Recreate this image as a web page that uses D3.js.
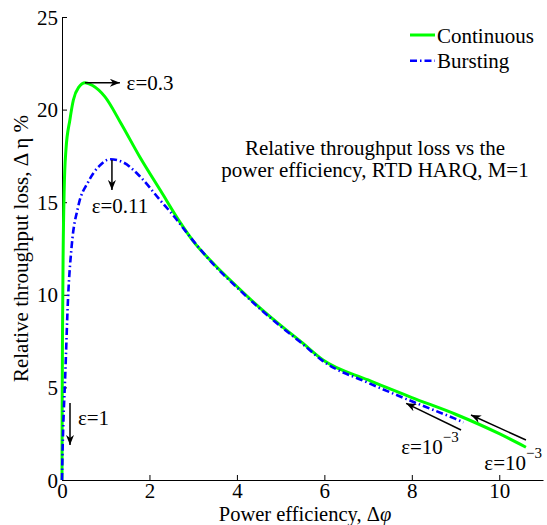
<!DOCTYPE html>
<html>
<head>
<meta charset="utf-8">
<script src="https://cdn.jsdelivr.net/npm/d3@7"></script>
</head>
<body style="margin:0;background:#fff">
<svg id="chart" width="547" height="525"></svg>
<script>
// ---------------- data ----------------
const xTicks = [0, 2, 4, 6, 8, 10];
const yTicks = [0, 5, 10, 15, 20, 25];

const continuousX = [0, 0.004, 0.012, 0.025, 0.05, 0.09, 0.18, 0.26, 0.38, 0.53, 0.7, 0.98, 1.35, 1.78, 2.26, 2.69, 3.0, 3.5, 4.0, 4.5, 5.0, 5.5, 5.97, 7.0, 8.0, 9.0, 10.0, 10.61];
const continuousY = [0, 4, 8, 12, 15.66, 17.82, 19.44, 20.52, 21.2, 21.45, 21.3, 20.7, 19.25, 17.44, 15.6, 13.95, 12.9, 11.6, 10.45, 9.35, 8.35, 7.4, 6.48, 5.4, 4.45, 3.55, 2.5, 1.77];

const burstingX = [0, 0.01, 0.03, 0.07, 0.14, 0.22, 0.37, 0.6, 0.85, 1.1, 1.4, 1.78, 2.24, 2.54, 2.92, 3.5, 4.0, 4.5, 5.0, 5.5, 5.97, 7.0, 8.0, 9.0, 9.18];
const burstingY = [0, 1.3, 3, 5.4, 9.9, 12.6, 14.76, 16.1, 16.95, 17.32, 17.15, 16.4, 15.12, 14.3, 13.15, 11.55, 10.4, 9.3, 8.3, 7.35, 6.42, 5.25, 4.25, 3.3, 3.12];

const seriesNames = ["Continuous", "Bursting"];

// annotation arrows, in data units: tail, tip and label anchor
const arrowFrom = [[0.525, 21.45], [1.142, 17.28], [0.183, 4.16], [9.126, 2.70], [10.61, 2.16]];
const arrowTo   = [[1.324, 21.45], [1.142, 15.66], [0.183, 1.89], [7.87, 4.14], [9.354, 3.51]];
const labelPos  = [[1.477, 21.06], [0.678, 14.42], [0.365, 2.97], [7.756, 1.40], [9.658, 0.54]];
const labelMain = ["ε=0.3", "ε=0.11", "ε=1", "ε=10", "ε=10"];
const labelSup  = ["", "", "", "−3", "−3"];

const titleLines = ["Relative throughput loss vs the", "power efficiency, RTD HARQ, M=1"];

// ---------------- layout ----------------
const FONT = "Liberation Serif";
const svg = d3.select("#chart");
const mLeft = 62, mRight = 543, mTop = 17, mBottom = 480;

const x = d3.scaleLinear().domain([0, 11]).range([mLeft, mRight]);
const y = d3.scaleLinear().domain([0, 25]).range([mBottom, mTop]);

const FS = 21;

svg.append("rect").attr("width", 547).attr("height", 525).attr("fill", "#fff");

// axes
const xAxis = svg.append("g")
  .attr("transform", `translate(0,${mBottom})`)
  .call(d3.axisBottom(x).tickValues(xTicks).tickSizeInner(-5).tickSizeOuter(0).tickFormat(d3.format("d")));
const yAxis = svg.append("g")
  .attr("transform", `translate(${mLeft},0)`)
  .call(d3.axisLeft(y).tickValues(yTicks).tickSizeInner(-5).tickSizeOuter(0).tickFormat(d3.format("d")));

[xAxis, yAxis].forEach(g => {
  g.attr("font-family", FONT).attr("font-size", FS);
  g.select(".domain").attr("stroke", "#000").attr("stroke-width", 1);
  g.selectAll(".tick line").attr("stroke", "#000").attr("stroke-width", 1);
  g.selectAll(".tick text").attr("fill", "#000").attr("font-family", FONT).attr("font-size", FS);
});
xAxis.selectAll(".tick text").attr("y", 17.5).attr("dy", null);
yAxis.selectAll(".tick text").attr("x", -4).attr("dy", "0.34em");

// axis labels
const xl = svg.append("text")
  .attr("x", 305).attr("y", 520.5)
  .attr("text-anchor", "middle")
  .attr("font-family", FONT)
  .attr("font-size", 20.5);
xl.append("tspan").text("Power efficiency, Δ");
xl.append("tspan").attr("font-style", "italic").text("φ");

svg.append("text")
  .attr("transform", `translate(28,${(mTop + mBottom) / 2}) rotate(-90)`)
  .attr("text-anchor", "middle")
  .attr("font-family", FONT)
  .attr("font-size", 21)
  .text("Relative throughput loss, Δ η %");

// lines
const line = d3.line().x(d => x(d[0])).y(d => y(d[1])).curve(d3.curveMonotoneX);
const contData = continuousX.map((v, i) => [v, continuousY[i]]);
const burstData = burstingX.map((v, i) => [v, burstingY[i]]);

const clr = ["#00ff00", "#0000ff"];
const widths = [3, 2.6];
const dashes = [null, "7,3,1.5,3"];

svg.append("path").datum(contData)
  .attr("d", line).attr("fill", "none")
  .attr("stroke", clr[0]).attr("stroke-width", widths[0]).attr("stroke-linejoin", "round");
svg.append("path").datum(burstData)
  .attr("d", line).attr("fill", "none")
  .attr("stroke", clr[1]).attr("stroke-width", widths[1]).attr("stroke-dasharray", dashes[1]);

// arrow marker
svg.append("defs").append("marker")
  .attr("id", "ah").attr("viewBox", "0 0 10 8")
  .attr("refX", 10).attr("refY", 4)
  .attr("markerWidth", 10).attr("markerHeight", 8)
  .attr("markerUnits", "userSpaceOnUse")
  .attr("orient", "auto")
  .append("path").attr("d", "M0,0 L10,4 L0,8 L3,4 Z").attr("fill", "#000");

arrowFrom.forEach((f, i) => {
  svg.append("line")
    .attr("x1", x(f[0])).attr("y1", y(f[1]))
    .attr("x2", x(arrowTo[i][0])).attr("y2", y(arrowTo[i][1]))
    .attr("stroke", "#000").attr("stroke-width", 1.5)
    .attr("marker-end", "url(#ah)");
  const t = svg.append("text")
    .attr("x", x(labelPos[i][0])).attr("y", y(labelPos[i][1]))
    .attr("font-family", FONT)
    .attr("font-size", FS);
  t.append("tspan").text(labelMain[i]);
  if (labelSup[i]) {
    t.append("tspan").attr("dy", -12).attr("font-size", 15).text(labelSup[i]);
  }
});

// title text
svg.append("text")
  .attr("x", 375).attr("y", 155)
  .attr("text-anchor", "middle")
  .attr("font-family", FONT)
  .attr("font-size", FS)
  .selectAll("tspan").data(titleLines).join("tspan")
  .attr("x", 375).attr("dy", (d, i) => i === 0 ? 0 : 21.7)
  .text(d => d);

// legend
const lg = svg.append("g");
seriesNames.forEach((name, i) => {
  const ly = 35 + i * 25.7;
  lg.append("line")
    .attr("x1", 410).attr("x2", 435).attr("y1", ly).attr("y2", ly)
    .attr("stroke", clr[i]).attr("stroke-width", widths[i])
    .attr("stroke-dasharray", dashes[i]);
  lg.append("text")
    .attr("x", 437).attr("y", ly + 7.5)
    .attr("font-family", FONT)
    .attr("font-size", FS)
    .text(name);
});
</script>
</body>
</html>
